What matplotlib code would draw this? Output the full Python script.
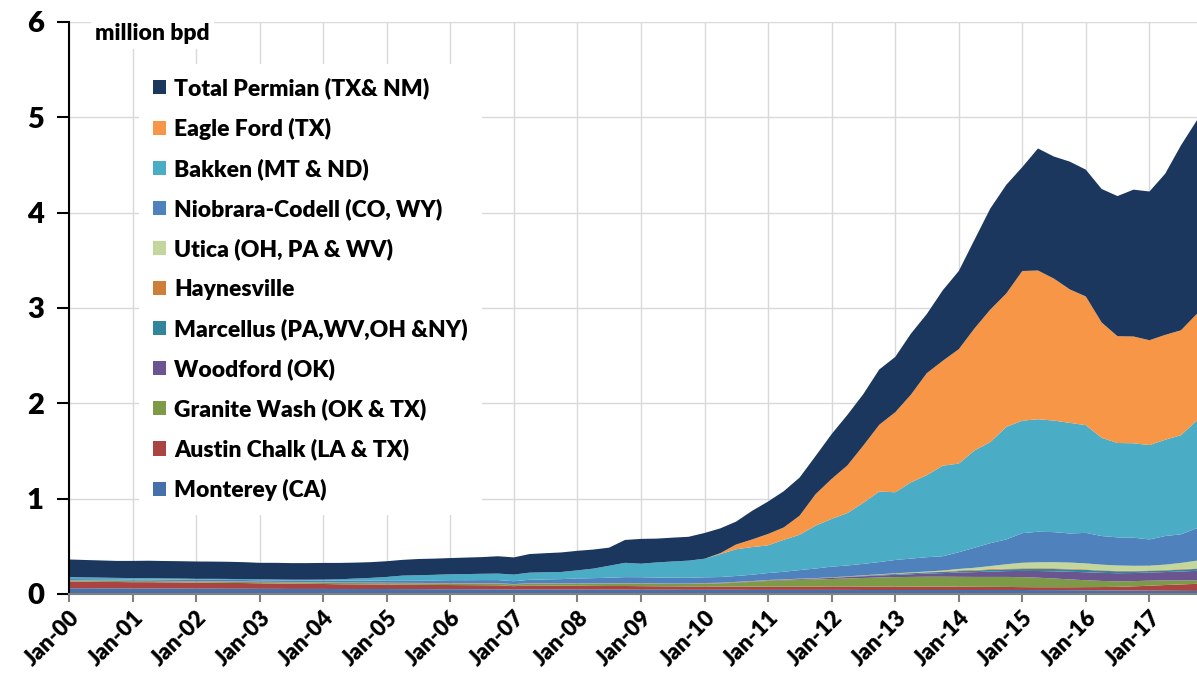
import numpy as np
import pandas as pd
import matplotlib
matplotlib.use("Agg")
import matplotlib.pyplot as plt
import matplotlib.dates as mdates
from matplotlib.patches import Patch

plt.rcParams['font.family'] = ['Lato', 'DejaVu Sans']
W = 800  # Lato heavy, closest to the Calibri Bold of the original

# quarterly points, Jan-00 .. Oct-17 (million bpd)
dates = pd.date_range("2000-01-01", "2017-10-01", freq="QS")

monterey = [
    0.060, 0.060, 0.059, 0.059, 0.058, 0.058, 0.057, 0.057,
    0.056, 0.056, 0.055, 0.055, 0.054, 0.054, 0.053, 0.053,
    0.053, 0.052, 0.052, 0.052, 0.052, 0.051, 0.051, 0.050,
    0.050, 0.050, 0.049, 0.049, 0.046, 0.048, 0.048, 0.047,
    0.047, 0.046, 0.046, 0.046, 0.045, 0.045, 0.045, 0.044,
    0.044, 0.044, 0.044, 0.043, 0.043, 0.043, 0.043, 0.043,
    0.043, 0.043, 0.042, 0.042, 0.042, 0.042, 0.042, 0.042,
    0.042, 0.042, 0.042, 0.042, 0.042, 0.041, 0.041, 0.040,
    0.039, 0.038, 0.037, 0.036, 0.035, 0.034, 0.033, 0.032]
austin_chalk = [
    0.070, 0.069, 0.068, 0.067, 0.066, 0.066, 0.065, 0.064,
    0.063, 0.062, 0.061, 0.060, 0.058, 0.056, 0.055, 0.054,
    0.052, 0.050, 0.049, 0.048, 0.047, 0.046, 0.045, 0.045,
    0.044, 0.043, 0.043, 0.042, 0.036, 0.042, 0.041, 0.040,
    0.040, 0.039, 0.038, 0.038, 0.037, 0.036, 0.035, 0.035,
    0.035, 0.034, 0.034, 0.034, 0.034, 0.034, 0.035, 0.035,
    0.036, 0.036, 0.036, 0.035, 0.035, 0.035, 0.035, 0.035,
    0.035, 0.034, 0.033, 0.032, 0.030, 0.030, 0.030, 0.031,
    0.033, 0.035, 0.038, 0.044, 0.052, 0.060, 0.067, 0.075]
granite_wash = [
    0.010, 0.010, 0.010, 0.010, 0.010, 0.011, 0.011, 0.011,
    0.011, 0.012, 0.012, 0.012, 0.012, 0.012, 0.013, 0.013,
    0.013, 0.013, 0.014, 0.014, 0.014, 0.015, 0.015, 0.015,
    0.016, 0.016, 0.017, 0.017, 0.017, 0.018, 0.019, 0.020,
    0.021, 0.022, 0.024, 0.026, 0.026, 0.025, 0.025, 0.026,
    0.028, 0.032, 0.040, 0.050, 0.060, 0.065, 0.070, 0.074,
    0.078, 0.084, 0.090, 0.096, 0.100, 0.102, 0.104, 0.104,
    0.103, 0.103, 0.104, 0.105, 0.105, 0.100, 0.092, 0.082,
    0.072, 0.064, 0.058, 0.055, 0.053, 0.048, 0.042, 0.036]
woodford = [
    0.002, 0.002, 0.002, 0.002, 0.002, 0.002, 0.002, 0.002,
    0.002, 0.002, 0.002, 0.002, 0.002, 0.002, 0.002, 0.002,
    0.002, 0.002, 0.002, 0.002, 0.002, 0.002, 0.002, 0.002,
    0.002, 0.002, 0.002, 0.002, 0.002, 0.002, 0.002, 0.002,
    0.002, 0.002, 0.002, 0.002, 0.002, 0.002, 0.002, 0.002,
    0.003, 0.003, 0.004, 0.004, 0.005, 0.006, 0.008, 0.010,
    0.012, 0.015, 0.018, 0.021, 0.024, 0.028, 0.033, 0.038,
    0.045, 0.050, 0.056, 0.061, 0.065, 0.070, 0.075, 0.080,
    0.084, 0.085, 0.085, 0.085, 0.085, 0.088, 0.094, 0.100]
marcellus = [
    0.001, 0.001, 0.001, 0.001, 0.001, 0.001, 0.001, 0.001,
    0.001, 0.001, 0.001, 0.001, 0.001, 0.001, 0.001, 0.001,
    0.001, 0.001, 0.001, 0.001, 0.001, 0.001, 0.001, 0.001,
    0.001, 0.001, 0.001, 0.001, 0.001, 0.001, 0.001, 0.001,
    0.001, 0.001, 0.001, 0.001, 0.001, 0.001, 0.001, 0.001,
    0.001, 0.001, 0.001, 0.001, 0.001, 0.001, 0.001, 0.001,
    0.002, 0.003, 0.005, 0.007, 0.009, 0.011, 0.012, 0.013,
    0.015, 0.016, 0.018, 0.019, 0.020, 0.022, 0.024, 0.025,
    0.025, 0.022, 0.020, 0.018, 0.016, 0.017, 0.019, 0.021]
haynesville = [
    0.002, 0.002, 0.002, 0.002, 0.002, 0.002, 0.002, 0.002,
    0.002, 0.002, 0.002, 0.002, 0.002, 0.002, 0.002, 0.002,
    0.002, 0.002, 0.002, 0.002, 0.002, 0.002, 0.002, 0.002,
    0.002, 0.002, 0.002, 0.002, 0.002, 0.002, 0.002, 0.002,
    0.002, 0.002, 0.002, 0.002, 0.002, 0.002, 0.002, 0.002,
    0.004, 0.004, 0.004, 0.004, 0.004, 0.004, 0.004, 0.004,
    0.004, 0.004, 0.004, 0.004, 0.004, 0.004, 0.004, 0.004,
    0.008, 0.008, 0.008, 0.008, 0.008, 0.008, 0.008, 0.008,
    0.006, 0.006, 0.006, 0.006, 0.006, 0.006, 0.006, 0.006]
utica = [
    0, 0, 0, 0, 0, 0, 0, 0,
    0, 0, 0, 0, 0, 0, 0, 0,
    0, 0, 0, 0, 0, 0, 0, 0,
    0, 0, 0, 0, 0, 0, 0, 0,
    0, 0, 0, 0, 0, 0, 0, 0,
    0, 0, 0, 0, 0, 0, 0, 0,
    0, 0, 0.001, 0.002, 0.003, 0.004, 0.006, 0.010,
    0.015, 0.022, 0.032, 0.045, 0.058, 0.062, 0.064, 0.064,
    0.062, 0.058, 0.055, 0.052, 0.050, 0.055, 0.065, 0.080]
niobrara = [
    0.012, 0.012, 0.013, 0.013, 0.013, 0.013, 0.014, 0.014,
    0.014, 0.014, 0.015, 0.015, 0.015, 0.016, 0.016, 0.017,
    0.018, 0.019, 0.020, 0.022, 0.025, 0.026, 0.027, 0.028,
    0.030, 0.031, 0.032, 0.033, 0.030, 0.036, 0.040, 0.044,
    0.050, 0.054, 0.058, 0.062, 0.063, 0.062, 0.061, 0.060,
    0.060, 0.060, 0.062, 0.066, 0.073, 0.080, 0.090, 0.100,
    0.112, 0.114, 0.120, 0.128, 0.140, 0.145, 0.150, 0.150,
    0.175, 0.210, 0.240, 0.260, 0.310, 0.320, 0.315, 0.305,
    0.320, 0.300, 0.295, 0.295, 0.275, 0.300, 0.300, 0.340]
bakken = [
    0.020, 0.018, 0.017, 0.015, 0.015, 0.014, 0.012, 0.011,
    0.010, 0.010, 0.010, 0.009, 0.010, 0.009, 0.008, 0.008,
    0.010, 0.015, 0.022, 0.028, 0.036, 0.050, 0.054, 0.058,
    0.062, 0.064, 0.066, 0.068, 0.070, 0.075, 0.075, 0.075,
    0.085, 0.100, 0.125, 0.150, 0.142, 0.158, 0.170, 0.180,
    0.195, 0.240, 0.280, 0.290, 0.290, 0.335, 0.370, 0.450,
    0.500, 0.550, 0.640, 0.740, 0.710, 0.800, 0.860, 0.950,
    0.930, 1.020, 1.060, 1.180, 1.180, 1.180, 1.170, 1.160,
    1.130, 1.030, 0.990, 0.990, 0.990, 1.010, 1.040, 1.130]
eagle_ford = [
    0, 0, 0, 0, 0, 0, 0, 0,
    0, 0, 0, 0, 0, 0, 0, 0,
    0, 0, 0, 0, 0, 0, 0, 0,
    0, 0, 0, 0, 0, 0, 0, 0,
    0, 0, 0, 0, 0, 0, 0, 0,
    0, 0.010, 0.050, 0.080, 0.120, 0.130, 0.200, 0.330,
    0.420, 0.500, 0.600, 0.700, 0.840, 0.920, 1.070, 1.100,
    1.200, 1.280, 1.390, 1.400, 1.570, 1.560, 1.490, 1.400,
    1.350, 1.210, 1.120, 1.120, 1.100, 1.100, 1.100, 1.120]
permian = [
    0.185, 0.183, 0.180, 0.178, 0.180, 0.182, 0.182, 0.182,
    0.182, 0.181, 0.180, 0.178, 0.173, 0.175, 0.174, 0.174,
    0.175, 0.172, 0.167, 0.165, 0.165, 0.165, 0.170, 0.170,
    0.170, 0.173, 0.175, 0.182, 0.180, 0.195, 0.200, 0.205,
    0.205, 0.200, 0.190, 0.240, 0.260, 0.250, 0.250, 0.250,
    0.270, 0.260, 0.240, 0.300, 0.340, 0.380, 0.400, 0.400,
    0.470, 0.530, 0.540, 0.580, 0.580, 0.640, 0.620, 0.740,
    0.820, 0.930, 1.060, 1.140, 1.090, 1.280, 1.280, 1.340,
    1.330, 1.400, 1.470, 1.540, 1.560, 1.690, 1.940, 2.030]

labels = ["Monterey (CA)", "Austin Chalk (LA & TX)", "Granite Wash (OK & TX)",
          "Woodford (OK)", "Marcellus (PA,WV,OH &NY)", "Haynesville",
          "Utica (OH, PA & WV)", "Niobrara-Codell (CO, WY)", "Bakken (MT & ND)",
          "Eagle Ford (TX)", "Total Permian (TX& NM)"]
colors = ["#4670AA", "#A94442", "#7D9B47", "#6B5590", "#31859C", "#CD7F3A",
          "#C3D69B", "#4F81BD", "#4BACC6", "#F79646", "#1B375E"]
series = [monterey, austin_chalk, granite_wash, woodford, marcellus, haynesville,
          utica, niobrara, bakken, eagle_ford, permian]

fig = plt.figure(figsize=(11.97, 6.78), dpi=100)
ax = fig.add_axes([0.0576, 0.1239, 0.9424, 0.8437])

ax.stackplot(dates, *series, colors=colors, linewidth=0, zorder=2)

ax.set_xlim(dates[0], dates[-1])
ax.set_ylim(0, 6)
ax.set_yticks(range(0, 7))
ax.xaxis.set_major_locator(mdates.YearLocator())
ax.xaxis.set_major_formatter(mdates.DateFormatter("%b-%y"))

ax.grid(True, color="#D9D9D9", linewidth=1.0, zorder=0)
ax.set_axisbelow(True)

for s in ["top", "right"]:
    ax.spines[s].set_visible(False)
ax.spines["left"].set_color("black")
ax.spines["left"].set_linewidth(1.5)
ax.spines["bottom"].set_color("#808080")
ax.spines["bottom"].set_linewidth(1.5)
ax.spines["bottom"].set_zorder(3)

ax.tick_params(axis="y", length=9, width=1.5, color="black", pad=9, labelsize=21)
ax.tick_params(axis="x", length=6, width=1.5, color="#808080", pad=3, labelsize=16)
for lab in ax.get_yticklabels():
    lab.set_fontweight(W)
for lab in ax.get_xticklabels():
    lab.set_fontweight(W)
    lab.set_rotation(45)
    lab.set_ha("right")
    lab.set_rotation_mode("anchor")

ax.text(0.023, 0.979, "million bpd", transform=ax.transAxes, fontsize=16.5,
        fontweight=W, va="center", ha="left",
        bbox=dict(facecolor="white", edgecolor="none", pad=3), zorder=5)

handles = [Patch(facecolor=c, edgecolor="none") for c in colors][::-1]
leg = ax.legend(handles, labels[::-1], loc="upper left", bbox_to_anchor=(0.052, 0.947),
                frameon=True, facecolor="white", edgecolor="none", framealpha=1,
                fancybox=False, prop={"size": 16.5, "weight": W},
                handlelength=0.58, handleheight=0.58, handletextpad=0.36,
                labelspacing=0.8, borderpad=0.6)
leg.set_zorder(5)

fig.savefig("out.png", dpi=100)
